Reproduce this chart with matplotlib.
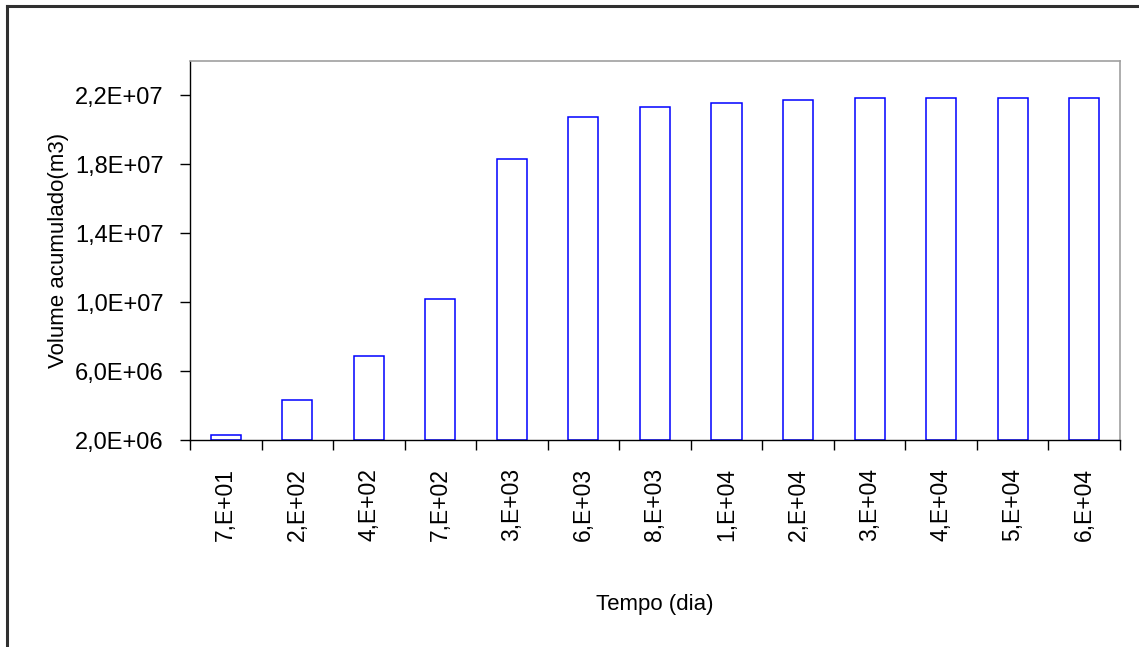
import matplotlib.pyplot as plt
from matplotlib.ticker import FuncFormatter, FixedLocator
import numpy as np

plt.rcParams['font.family'] = ['Liberation Sans', 'DejaVu Sans']

tempo = ['7,E+01', '2,E+02', '4,E+02', '7,E+02', '3,E+03', '6,E+03', '8,E+03',
         '1,E+04', '2,E+04', '3,E+04', '4,E+04', '5,E+04', '6,E+04']
volume = [2.29e6, 4.35e6, 6.86e6, 10.2e6, 18.3e6, 20.74e6, 21.34e6,
          21.54e6, 21.75e6, 21.84e6, 21.85e6, 21.85e6, 21.85e6]
y_ticks = [2e6, 6e6, 10e6, 14e6, 18e6, 22e6]

fig = plt.figure(figsize=(11.39, 6.47), dpi=100)
ax = fig.add_axes([0.1668, 0.3199, 0.9833 - 0.1668, 0.9057 - 0.3199])

x = np.arange(len(tempo))
ax.bar(x, np.array(volume) - 2e6, bottom=2e6, width=0.42,
       facecolor='white', edgecolor='#0000ff', linewidth=1.1)

ax.set_xlim(-0.5, len(tempo) - 0.5)
ax.set_ylim(2e6, 2.4e7)
ax.set_yticks(y_ticks)
ax.yaxis.set_major_formatter(FuncFormatter(lambda v, p: f'{v:.1E}'.replace('.', ',')))

ax.set_xticks(x)
ax.set_xticklabels(tempo, rotation=90, fontsize=16.5)
ax.xaxis.set_minor_locator(FixedLocator(np.arange(len(tempo) + 1) - 0.5))
ax.tick_params(axis='x', which='major', length=0, pad=20)
ax.tick_params(axis='x', which='minor', length=7, width=1, direction='out')
ax.tick_params(axis='y', length=7, width=1, direction='out', labelsize=17, pad=12)

for s in ['left', 'bottom']:
    ax.spines[s].set_color('black')
    ax.spines[s].set_linewidth(1.0)
for s in ['top', 'right']:
    ax.spines[s].set_color('#a0a0a0')
    ax.spines[s].set_linewidth(1.2)

ax.set_ylabel('Volume acumulado(m3)', fontsize=16, labelpad=4)
ax.set_xlabel('Tempo (dia)', fontsize=16, labelpad=38)

# moldura da figura (só esquerda e topo)
fig.add_artist(plt.Line2D([7 / 1139, 7 / 1139], [0, 1 - 6 / 647], color='#303030', lw=2.2))
fig.add_artist(plt.Line2D([7 / 1139, 1], [1 - 6 / 647, 1 - 6 / 647], color='#303030', lw=2.2))

fig.savefig('out.png', dpi=100)
